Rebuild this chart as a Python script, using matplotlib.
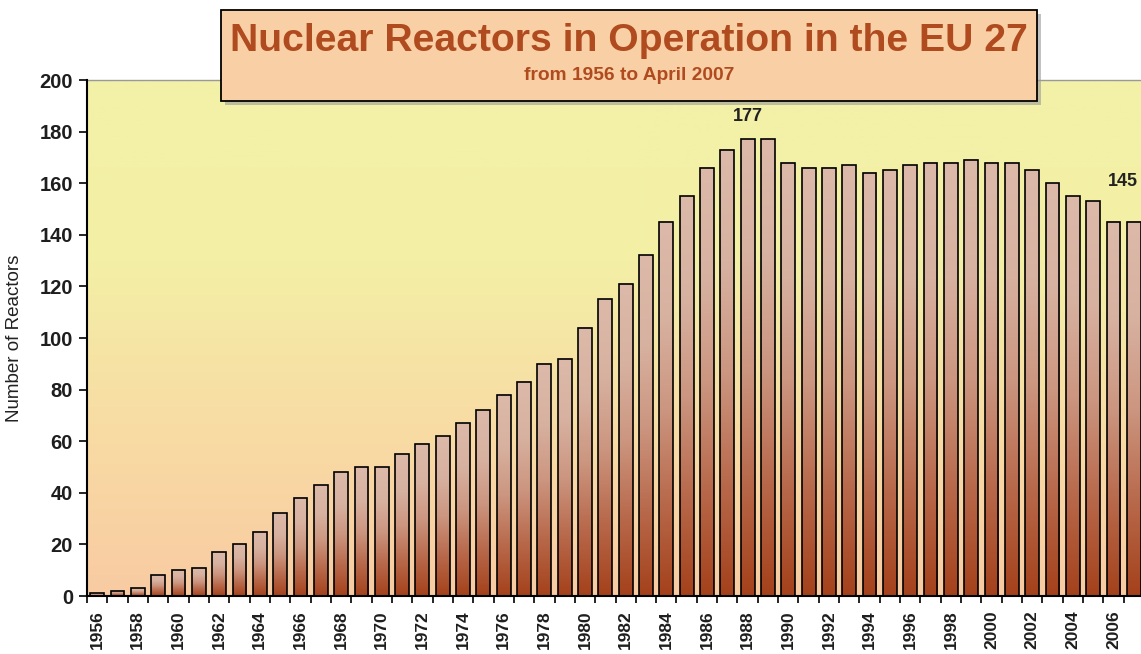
import matplotlib.pyplot as plt
import numpy as np
from matplotlib.colors import LinearSegmentedColormap
from matplotlib.patches import Rectangle

plt.rcParams['font.family'] = ['Liberation Sans', 'DejaVu Sans']

# data
years = list(range(1956, 2008))
reactors = [1, 2, 3, 8, 10, 11, 17, 20, 25, 32, 38, 43, 48, 50, 50,
            55, 59, 62, 67, 72, 78, 83, 90, 92, 104, 115, 121, 132, 145, 155,
            166, 173, 177, 177, 168, 166, 166, 167, 164, 165, 167, 168, 168, 169, 168,
            168, 165, 160, 155, 153, 145, 145]
label_years = [1988, 2007]
y_ticks = [0, 20, 40, 60, 80, 100, 120, 140, 160, 180, 200]

title = 'Nuclear Reactors in Operation in the EU 27'
subtitle = 'from 1956 to April 2007'
ylabel = 'Number of Reactors'

rust = '#b04a1f'
bg_cmap = LinearSegmentedColormap.from_list('bg', ['#f9cba2', '#f8dca4', '#f3f0a6', '#f3f1a8'])
bar_cmap = LinearSegmentedColormap.from_list('bar', ['#a4411b', '#b8694b', '#cc9680', '#d8b2a1', '#dcb9a9'])

fig = plt.figure(figsize=(11.41, 6.54), dpi=100)
ax = fig.add_axes([87/1141, 1-596/654, 1057/1141, 516/654])

# background gradient of plot area
grad = np.linspace(0, 1, 256).reshape(-1, 1)
ax.imshow(grad, extent=[0, 1, 0, 1], transform=ax.transAxes, cmap=bg_cmap,
          origin='lower', aspect='auto', zorder=0)

x = np.arange(len(years))
w = 0.68
bars = ax.bar(x, reactors, width=w, facecolor='none', edgecolor='black', linewidth=1.2, zorder=3)
for b in bars:
    x0 = b.get_x()
    ax.imshow(grad, extent=[x0, x0 + b.get_width(), 0, b.get_height()], cmap=bar_cmap,
              origin='lower', aspect='auto', zorder=2)

for yr, dx, dy in zip(label_years, [0, -8], [10, 23]):
    i = years.index(yr)
    ax.annotate(str(reactors[i]), (x[i], reactors[i]), xytext=(dx, dy), textcoords='offset points',
                ha='center', va='bottom', fontsize=13, fontweight='bold', color='#222222',
                annotation_clip=False)

ax.set_xlim(-0.5, len(years) - 0.5)
ax.set_ylim(0, 200)
ax.set_yticks(y_ticks)
ax.set_yticklabels([str(t) for t in y_ticks], fontsize=14.5, fontweight='bold', color='#1e1e1e')
ax.tick_params(axis='y', length=6, width=1.2, pad=4)

ax.set_xticks(x[::2])
ax.set_xticklabels([str(y) for y in years[::2]], rotation=90, fontsize=12.5,
                   fontweight='bold', color='#1e1e1e')
ax.set_xticks(np.arange(-0.5, len(years), 1), minor=True)
ax.tick_params(axis='x', which='major', length=0, pad=10)
ax.tick_params(axis='x', which='minor', length=5, width=1.2)

ax.set_ylabel(ylabel, fontsize=13.5, color='#222222', labelpad=12)

for s in ['left', 'bottom']:
    ax.spines[s].set_linewidth(1.5)
    ax.spines[s].set_zorder(5)
ax.spines['top'].set_color('#999999')
ax.spines['top'].set_linewidth(1)
ax.spines['right'].set_visible(False)

# title box with shadow
bx, by, bw, bh = 221/1141, 1-101/654, 816/1141, 91/654
fig.patches.append(Rectangle((bx + 4/1141, by - 4/654), bw, bh, transform=fig.transFigure,
                             facecolor='#9a9a9a', edgecolor='none', alpha=0.6, zorder=8))
fig.patches.append(Rectangle((bx, by), bw, bh, transform=fig.transFigure,
                             facecolor='#f9cfa5', edgecolor='black', linewidth=1.3, zorder=9))
fig.text(629/1141, 1-41/654, title, ha='center', va='center', fontsize=28.2,
         fontweight='bold', color=rust, zorder=10,
         family=['Liberation Sans Narrow', 'Liberation Sans'])
fig.text(629/1141, 1-75/654, subtitle, ha='center', va='center', fontsize=13.8,
         fontweight='bold', color=rust, zorder=10)

fig.savefig('out.png', dpi=100)
